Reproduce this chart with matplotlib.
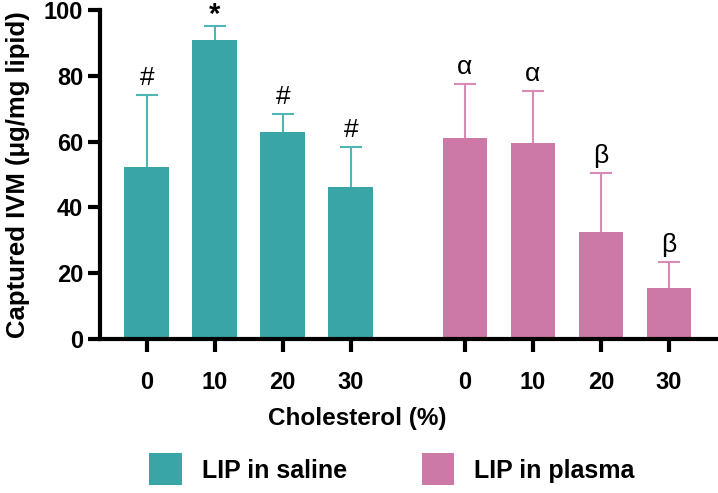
import matplotlib
matplotlib.use("Agg")
import matplotlib.pyplot as plt
from matplotlib.patches import Patch
import numpy as np

plt.rcParams['font.family'] = ['Liberation Sans', 'DejaVu Sans']

conc_labels = ["0", "10", "20", "30"]
saline_means = [52.3, 90.7, 63.0, 46.3]
saline_err = [21.9, 4.3, 5.4, 12.1]
plasma_means = [61.0, 59.7, 32.6, 15.4]
plasma_err = [16.6, 15.8, 18.0, 8.0]
saline_marks = ["#", "*", "#", "#"]
plasma_marks = ["α", "α", "β", "β"]
series_names = ["LIP in saline", "LIP in plasma"]

teal = "#3AA5A6"
teal_err = "#4FB5B5"
pink = "#CC79A7"
pink_err = "#D98BB8"

fig = plt.figure(figsize=(7.18, 4.93), dpi=100)
ax = fig.add_axes([0.139, 0.312, 0.860, 0.668])

x_sal = np.arange(4)
x_pla = np.arange(4) + 4.68
w = 0.66
cap = 0.16

for xs, ms, es, c, ec in [(x_sal, saline_means, saline_err, teal, teal_err),
                          (x_pla, plasma_means, plasma_err, pink, pink_err)]:
    ax.bar(xs, ms, width=w, color=c, edgecolor='none', zorder=2)
    tops = np.array(ms) + np.array(es)
    ax.vlines(xs, ms, tops, color=ec, linewidth=1.5, zorder=1)
    ax.hlines(tops, xs - cap, xs + cap, color=ec, linewidth=1.5, zorder=1)

for xs, ms, es, marks in [(x_sal, saline_means, saline_err, saline_marks),
                          (x_pla, plasma_means, plasma_err, plasma_marks)]:
    for xi, m, e, t in zip(xs, ms, es, marks):
        if t == "*":
            ax.text(xi, m + e + 3.4, t, ha='center', va='center', fontsize=21, fontweight='bold')
        else:
            ax.text(xi, m + e + 1.5, t, ha='center', va='bottom', fontsize=19)

ax.set_xlim(-0.69, 8.39)
ax.set_ylim(0, 100)
ax.set_yticks([0, 20, 40, 60, 80, 100])
ax.set_xticks(list(x_sal) + list(x_pla))
ax.set_xticklabels(conc_labels + conc_labels)
for s in ['top', 'right']:
    ax.spines[s].set_visible(False)
for s in ['left', 'bottom']:
    ax.spines[s].set_linewidth(3)
ax.tick_params(axis='both', width=3, length=9, labelsize=17)
ax.tick_params(axis='x', pad=14)
ax.tick_params(axis='y', pad=3)
for lab in ax.get_xticklabels() + ax.get_yticklabels():
    lab.set_fontweight('bold')

ax.set_ylabel("Captured IVM (μg/mg lipid)", fontsize=18.5, fontweight='bold')
ax.yaxis.set_label_coords(-0.113, 0.5)
fig.text(0.498, 0.152, "Cholesterol (%)", ha='center', va='center', fontsize=17.5, fontweight='bold')

handles = [Patch(facecolor=teal, edgecolor='none'), Patch(facecolor=pink, edgecolor='none')]
fig.legend(handles, series_names, loc='center', bbox_to_anchor=(0.546, 0.048), ncol=2,
           frameon=False, prop={'weight': 'bold', 'size': 18}, handlelength=1.3, handleheight=1.6,
           columnspacing=3.0, handletextpad=0.8)

fig.savefig("out.png", dpi=100)
